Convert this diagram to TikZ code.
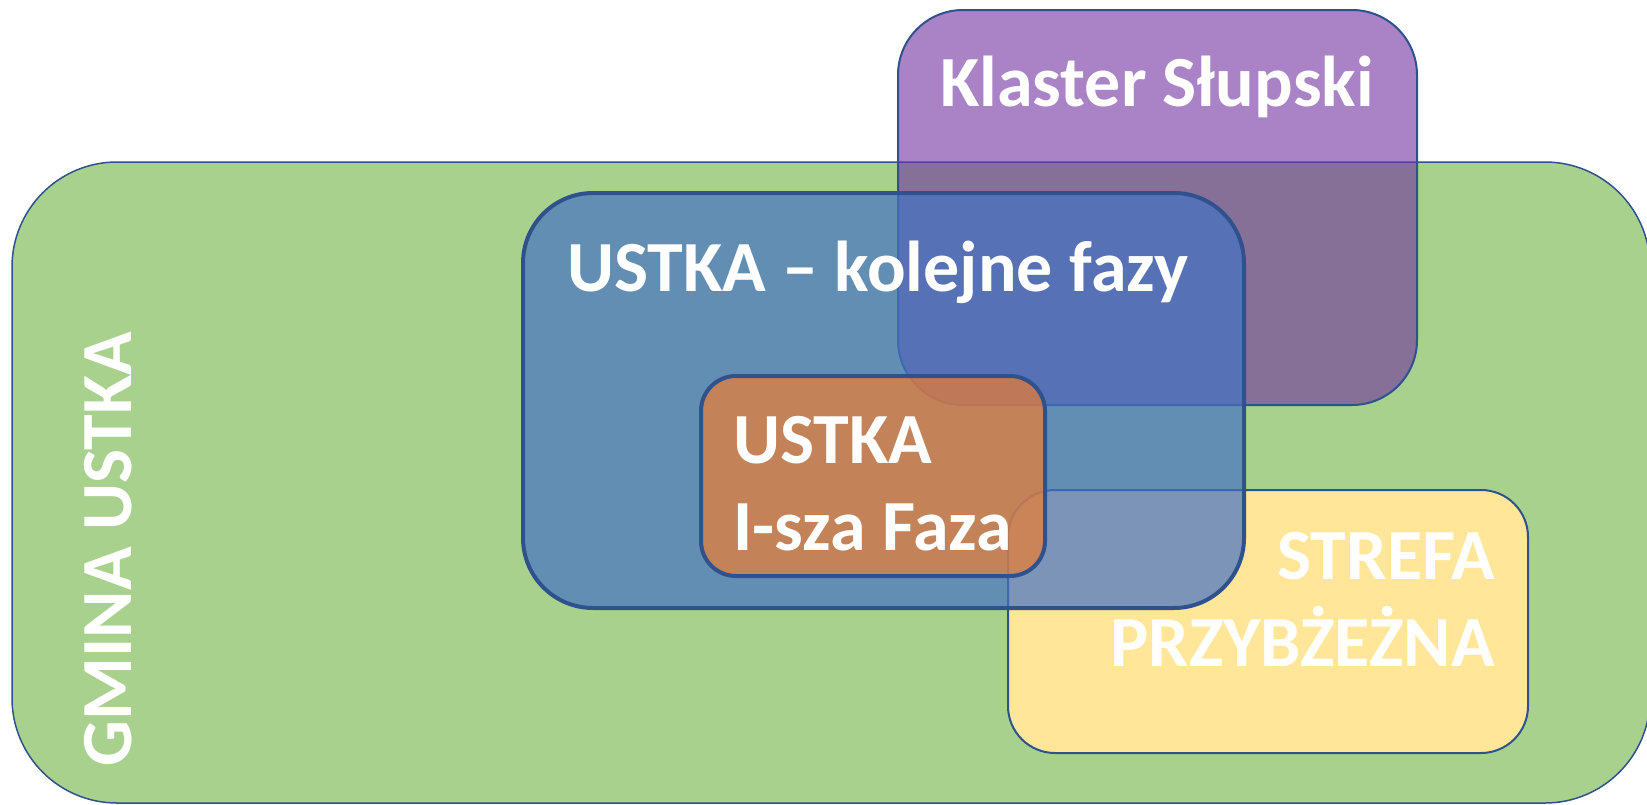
\documentclass[tikz,border=0pt]{standalone}
\usepackage{fontspec}
\setmainfont{Carlito}
\definecolor{ramka}{HTML}{2F528F}
\definecolor{zielony}{HTML}{A9D18E}
\definecolor{fiolet}{HTML}{7030A0}
\definecolor{niebieski}{HTML}{4472C4}
\definecolor{pomarancz}{HTML}{ED7D31}
\definecolor{zolty}{HTML}{FFE699}

\begin{document}
\begin{tikzpicture}[x=1pt,y=-1pt,
  box/.style={draw=ramka, rounded corners=#1, inner sep=0pt},
  napis/.style={text=white, inner sep=0pt, font=\bfseries\fontsize{72}{87}\selectfont}]
\useasboundingbox (0,0) rectangle (1647,804);

% obszary
\node[box=105pt, fill=zielony, line width=1.5pt, minimum width=1638pt, minimum height=641pt] (gmina) at (831,482.5) {};
\node[box=65pt, fill=fiolet, fill opacity=0.6, line width=2pt, minimum width=519pt, minimum height=395pt] (klaster) at (1157.5,207.5) {};
\node[box=47pt, fill=zolty, line width=2pt, minimum width=520pt, minimum height=263pt] (strefa) at (1268,621.5) {};
\node[box=70pt, fill=niebieski, fill opacity=0.7, line width=4pt, minimum width=721pt, minimum height=415pt] (fazy) at (883.5,400.5) {};
\node[box=35pt, fill=pomarancz, fill opacity=0.7, line width=4pt, minimum width=344pt, minimum height=200pt] (faza1) at (873,476) {};

% napisy
\node[napis, anchor=base] (klasterTxt) at (1157,106) {Klaster Słupski};
\node[napis, anchor=base west] (fazyTxt) at (567,291) {USTKA – kolejne fazy};
\node[napis, anchor=base west, align=left] (faza1Txt) at (733,550) {USTKA\\I-sza Faza};
\node[napis, anchor=base east, align=right] (strefaTxt) at (1495,666) {STREFA\\PRZYBŻEŻNA};
\node[napis, anchor=base, rotate=90] (gminaTxt) at (131,549) {GMINA USTKA};
\end{tikzpicture}
\end{document}
